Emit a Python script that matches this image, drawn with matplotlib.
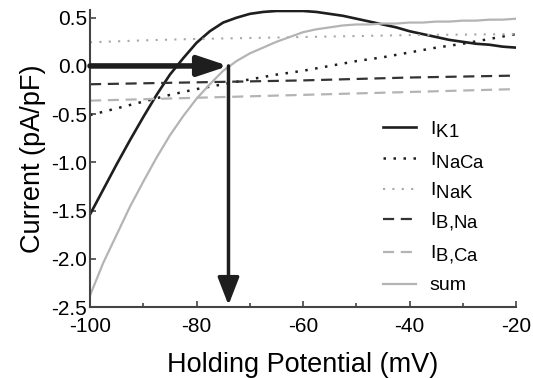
import matplotlib
matplotlib.use('Agg')
import matplotlib.pyplot as plt
import matplotlib._mathtext as mathtext

# subscripts in the legend are drawn almost as large as the "I"
mathtext.SHRINK_FACTOR = 0.95

# holding potential (mV), 2.5 mV steps for the curved traces
v_fine = [-100, -97.5, -95, -92.5, -90, -87.5, -85, -82.5, -80, -77.5, -75, -72.5, -70,
          -67.5, -65, -62.5, -60, -57.5, -55, -52.5, -50, -47.5, -45, -42.5, -40,
          -37.5, -35, -32.5, -30, -27.5, -25, -22.5, -20]
v = [-100, -95, -90, -85, -80, -75, -70, -65, -60, -55, -50, -45, -40, -35, -30, -25, -20]
v_coarse = [-100, -80, -60, -40, -20]

# currents (pA/pF)
i_k1 = [-1.54, -1.28, -1.02, -0.77, -0.53, -0.30, -0.09, 0.08, 0.24, 0.36, 0.45, 0.50, 0.54,
        0.56, 0.57, 0.57, 0.57, 0.56, 0.54, 0.52, 0.49, 0.46, 0.43, 0.40, 0.36,
        0.33, 0.30, 0.27, 0.25, 0.23, 0.22, 0.20, 0.19]
i_sum = [-2.38, -2.04, -1.75, -1.46, -1.20, -0.95, -0.72, -0.52, -0.34, -0.19, -0.05, 0.05, 0.13,
         0.19, 0.25, 0.30, 0.35, 0.38, 0.40, 0.42, 0.43, 0.43, 0.44, 0.44, 0.45,
         0.45, 0.46, 0.46, 0.47, 0.47, 0.48, 0.48, 0.49]
i_naca = [-0.51, -0.44, -0.37, -0.30, -0.24, -0.19, -0.14, -0.09, -0.05, 0.00, 0.05, 0.09, 0.14, 0.19, 0.23, 0.28, 0.33]
i_nak = [0.245, 0.255, 0.265, 0.273, 0.28, 0.285, 0.29, 0.295, 0.30, 0.305, 0.31, 0.315, 0.32, 0.323, 0.325, 0.328, 0.33]
i_bna = [-0.19, -0.17, -0.15, -0.12, -0.10]
i_bca = [-0.36, -0.33, -0.30, -0.27, -0.24]

v_rest = -74  # where the sum crosses zero

plt.rcParams['font.family'] = ['Liberation Sans', 'DejaVu Sans']
plt.rcParams['axes.unicode_minus'] = False

fig = plt.figure(figsize=(5.33, 3.78), dpi=100)
ax = fig.add_axes([0.1689, 0.1878, 0.7993, 0.7857])

dark = '#1e1e1e'
light = '#b4b4b4'

ax.plot(v_fine, i_k1, color=dark, lw=1.9, label=r'$\mathregular{I_{K1}}$')
ax.plot(v, i_naca, color=dark, lw=1.8, dashes=(1, 3), label=r'$\mathregular{I_{NaCa}}$')
ax.plot(v, i_nak, color='#a8a8a8', lw=1.5, dashes=(1, 3.5), label=r'$\mathregular{I_{NaK}}$')
ax.plot(v_coarse, i_bna, color='#333333', lw=1.6, dashes=(5, 3), label=r'$\mathregular{I_{B{,}Na}}$')
ax.plot(v_coarse, i_bca, color=light, lw=1.6, dashes=(5, 3), label=r'$\mathregular{I_{B{,}Ca}}$')
ax.plot(v_fine, i_sum, color=light, lw=1.6, label='sum')

# arrows marking the zero crossing of the summed current
ax.annotate('', xy=(v_rest, 0), xytext=(-100, 0),
            arrowprops=dict(arrowstyle='-|>,head_length=0.9,head_width=0.3',
                            mutation_scale=20, lw=4, color=dark,
                            shrinkA=0, shrinkB=0))
ax.annotate('', xy=(v_rest, -2.48), xytext=(v_rest, 0),
            arrowprops=dict(arrowstyle='-|>,head_length=0.85,head_width=0.33',
                            mutation_scale=20, lw=2.5, color=dark,
                            shrinkA=0, shrinkB=0))

ax.set_xlim(-100, -20)
ax.set_ylim(-2.5, 0.58)
ax.set_xticks([-100, -80, -60, -40, -20])
ax.set_xticks([-90, -70, -50, -30], minor=True)
ax.set_yticks([-2.5, -2.0, -1.5, -1.0, -0.5, 0.0, 0.5])
ax.set_yticklabels(['-2.5', '-2.0', '-1.5', '-1.0', '-0.5', '0.0', '0.5'])
ax.tick_params(direction='in', length=4, width=1.2, labelsize=15, color='#444444')
ax.tick_params(axis='x', pad=7)
ax.tick_params(axis='y', pad=2)
ax.tick_params(which='minor', direction='in', length=3, width=1.2, color='#444444')

for side in ['top', 'right']:
    ax.spines[side].set_visible(False)
for side in ['left', 'bottom']:
    ax.spines[side].set_linewidth(1.5)
    ax.spines[side].set_color('#444444')

ax.set_xlabel('Holding Potential (mV)', fontsize=19.5, labelpad=12)
ax.set_ylabel('Current (pA/pF)', fontsize=19.5, labelpad=4)

ax.legend(loc='lower left', bbox_to_anchor=(0.665, 0.01), frameon=False,
          fontsize=14, handlelength=1.7, handletextpad=0.7, labelspacing=0.55,
          borderpad=0)

fig.savefig('out.png', dpi=100)
